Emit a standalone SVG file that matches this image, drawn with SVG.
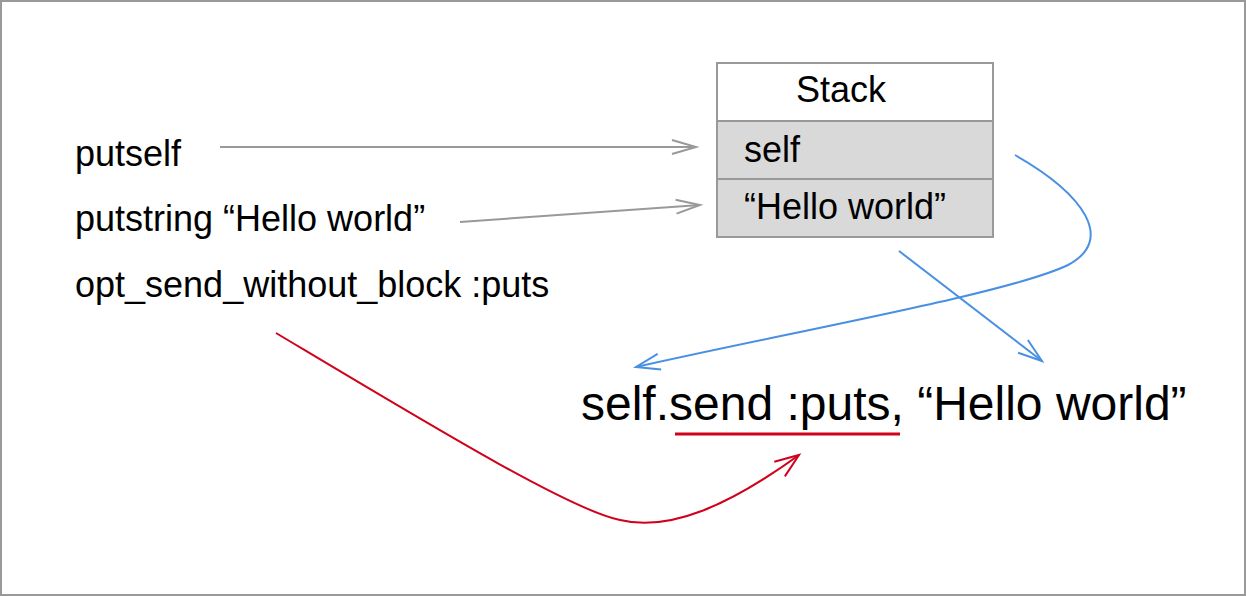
<svg xmlns="http://www.w3.org/2000/svg" width="1246" height="596" viewBox="0 0 1246 596">
<style>
text{font-family:"Liberation Sans",Arial,Helvetica,sans-serif;fill:#000}
.t{font-size:36px}
.big{font-size:48px}
.cell{stroke:#999;stroke-width:2}
.g{fill:none;stroke:#999;stroke-width:2}
.b{fill:none;stroke:#4a90e2;stroke-width:2}
.r{fill:none;stroke:#d0021b;stroke-width:2}
</style>
<defs>
<marker id="ag" markerUnits="userSpaceOnUse" markerWidth="30" markerHeight="20" viewBox="-26 -10 30 20" refX="0" refY="0" orient="auto"><path d="M-24,-7 L0,0 L-24,7" fill="none" stroke="#999" stroke-width="2"/></marker>
<marker id="ab" markerUnits="userSpaceOnUse" markerWidth="30" markerHeight="20" viewBox="-26 -10 30 20" refX="0" refY="0" orient="auto"><path d="M-24,-8 L0,0 L-24,8" fill="none" stroke="#4a90e2" stroke-width="2"/></marker>
<marker id="ar" markerUnits="userSpaceOnUse" markerWidth="30" markerHeight="24" viewBox="-26 -12 30 24" refX="0" refY="0" orient="auto"><path d="M-24,-9 L0,0 L-24,9" fill="none" stroke="#d0021b" stroke-width="2"/></marker>
</defs>
<rect x="1" y="1" width="1244" height="594" fill="#fff" stroke="#999" stroke-width="2"/>
<g id="putself"><text class="t" x="75" y="166">putself</text></g>
<g id="putstring"><text class="t" x="75" y="231">putstring “Hello world”</text></g>
<g id="opt_send"><text class="t" x="75" y="297">opt_send_without_block :puts</text></g>
<g id="stack">
<rect class="cell" x="717" y="63" width="276" height="58" fill="#fff"/>
<rect class="cell" x="717" y="121" width="276" height="58" fill="#d9d9d9"/>
<rect class="cell" x="717" y="179" width="276" height="58" fill="#d9d9d9"/>
<text class="t" x="841" y="102" text-anchor="middle">Stack</text>
<text class="t" x="744" y="162">self</text>
<text class="t" x="744" y="219">“Hello world”</text>
</g>
<g id="call">
<text class="big" x="581" y="420">self.send :puts, “Hello world”</text>
<line x1="675" y1="434" x2="900" y2="434" stroke="#d0021b" stroke-width="3"/>
</g>
<g id="connectors">
<line class="g" x1="220" y1="147" x2="696" y2="147" marker-end="url(#ag)"/>
<line class="g" x1="460" y1="222" x2="700" y2="205" marker-end="url(#ag)"/>
<path class="b" d="M1015,155 C1085,195 1115,240 1068,265 C1010,293 800,330 636,367" marker-end="url(#ab)"/>
<line class="b" x1="899" y1="251" x2="1042" y2="361" marker-end="url(#ab)"/>
<path class="r" d="M276,333 C430,425 570,510 620,520 C670,532 730,505 799,455" marker-end="url(#ar)"/>
</g>
</svg>
